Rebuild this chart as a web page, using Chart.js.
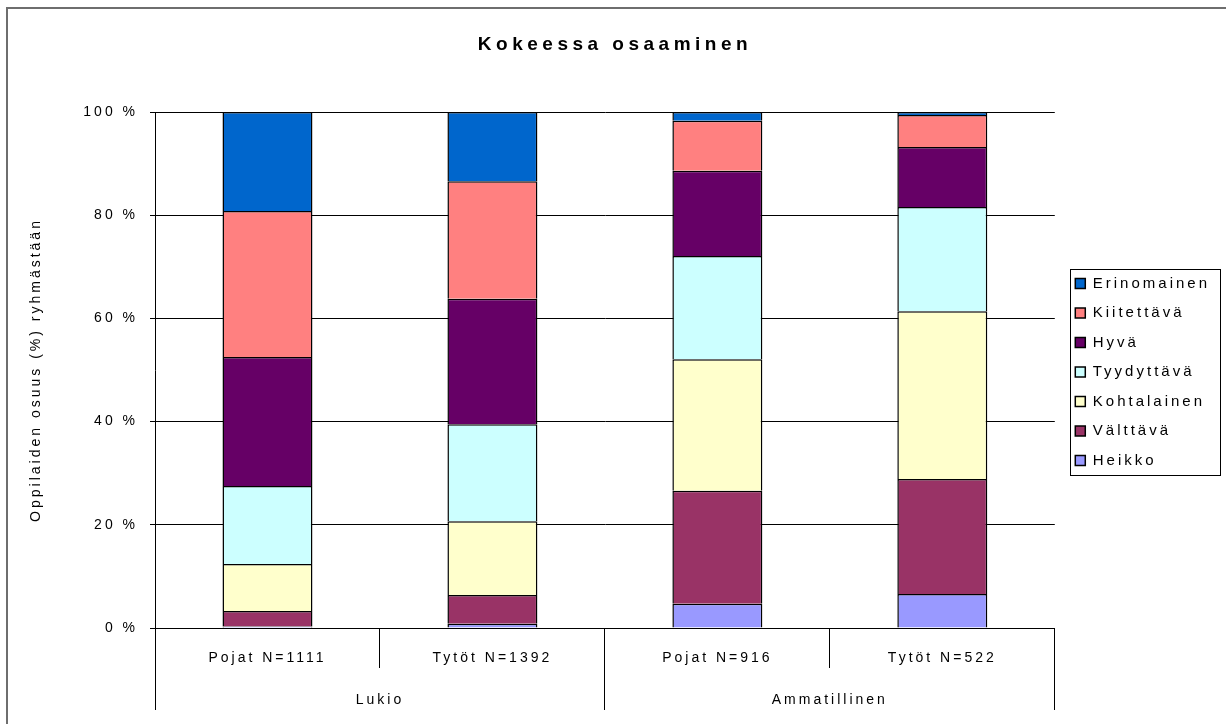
<!DOCTYPE html>
<html><head><meta charset="utf-8">
<script src="https://cdn.jsdelivr.net/npm/chart.js@4.4.1/dist/chart.umd.min.js"></script>
<style>html,body{margin:0;padding:0;background:#fff}canvas{display:block}</style>
</head><body>
<canvas id="c" width="1226" height="724"></canvas>
<script>
const chartTitle = 'Kokeessa osaaminen';
const yAxisTitle = 'Oppilaiden osuus (%) ryhmästään';
const categories = ['Pojat N=1111', 'Tytöt N=1392', 'Pojat N=916', 'Tytöt N=522'];
const groups = ['Lukio', 'Ammatillinen'];
const seriesNames = ['Heikko', 'Välttävä', 'Kohtalainen', 'Tyydyttävä', 'Hyvä', 'Kiitettävä', 'Erinomainen'];
const seriesColors = ['#9999FF', '#993366', '#FFFFCC', '#CCFFFF', '#660066', '#FF8080', '#0066CC'];
const heikko      = [0.3, 0.8, 4.7, 6.6];
const valttava    = [3.0, 5.6, 21.9, 22.3];
const kohtalainen = [9.1, 14.3, 25.5, 32.5];
const tyydyttava  = [15.1, 18.8, 20.0, 20.2];
const hyva        = [25.0, 24.3, 16.5, 11.6];
const kiitettava  = [28.3, 22.8, 9.7, 6.2];
const erinomainen = [19.2, 13.4, 1.7, 0.6];
const seriesValues = [heikko, valttava, kohtalainen, tyydyttava, hyva, kiitettava, erinomainen];

const FONT = "'Liberation Sans', Arial, sans-serif";
Chart.defaults.font.family = FONT;
Chart.defaults.font.size = 14;
Chart.defaults.color = '#000';

const SPACING = '3px';
const deco = {
  id: 'deco',
  beforeUpdate(chart) { chart.ctx.letterSpacing = SPACING; },
  beforeLayout(chart) { chart.ctx.letterSpacing = SPACING; },
  afterLayout(chart) {
    const lg = chart.legend;
    if (lg) {
      const shift = chart.chartArea.right + 6 - lg.left;
      lg.left += shift;
      lg.right += shift;
      lg.top += 2;
      lg.bottom += 2;
    }
  },
  beforeDraw(chart) {
    const ctx = chart.ctx;
    ctx.letterSpacing = SPACING;
    ctx.save();
    ctx.fillStyle = '#6e6e6e';
    ctx.fillRect(6, 7, 1220, 2);
    ctx.fillRect(6, 7, 2, 717);
    ctx.restore();
  },
  afterDraw(chart) {
    const ctx = chart.ctx;
    ctx.save();
    ctx.letterSpacing = '4.5px';
    ctx.font = "bold 19px " + FONT;
    ctx.fillStyle = '#000';
    ctx.textAlign = 'center';
    ctx.textBaseline = 'middle';
    ctx.fillText(chartTitle, chart.width / 2 + 2, 45);
    const lg = chart.legend;
    if (lg && lg.legendHitBoxes && lg.legendHitBoxes.length) {
      const hb = lg.legendHitBoxes;
      let l = Infinity, t = Infinity, r = -Infinity, b = -Infinity;
      hb.forEach(h => { l = Math.min(l, h.left); t = Math.min(t, h.top); r = Math.max(r, h.left + h.width); b = Math.max(b, h.top + h.height); });
      ctx.strokeStyle = '#000';
      ctx.lineWidth = 1;
      ctx.strokeRect(Math.round(l - 5) + 0.5, Math.round(t - 7) + 0.5, Math.round(r - l + 15), Math.round(b - t + 14));
    }
    ctx.restore();
  }
};

new Chart(document.getElementById('c'), {
  type: 'bar',
  data: {
    labels: categories,
    datasets: seriesNames.map((n, i) => ({
      label: n,
      data: seriesValues[i],
      backgroundColor: seriesColors[i],
      borderColor: '#000',
      borderWidth: 1.5,
      barPercentage: 0.4,
      categoryPercentage: 1.0
    }))
  },
  options: {
    responsive: false,
    animation: false,
    layout: { padding: { top: 112, left: 20, right: 12, bottom: 0 } },
    plugins: {
      title: { display: false },
      tooltip: { enabled: false },
      legend: {
        position: 'right',
        fullSize: false,
        reverse: true,
        labels: { boxWidth: 10, boxHeight: 10, padding: 14.5, font: { size: 15 }, color: '#000' }
      }
    },
    scales: {
      x: {
        stacked: true,
        offset: true,
        grid: { offset: true, drawOnChartArea: false, drawTicks: true, tickLength: 40, tickColor: '#000', color: '#000' },
        border: { display: true, color: '#000' },
        ticks: { padding: -18, font: { size: 14 }, color: '#000', maxRotation: 0 },
        afterFit(s) { s.height = 40; }
      },
      x2: {
        type: 'category',
        position: 'bottom',
        labels: groups,
        offset: true,
        grid: { offset: true, drawOnChartArea: false, drawTicks: true, tickLength: 42, tickColor: '#000', color: '#000' },
        border: { display: false },
        ticks: { padding: -18, font: { size: 14 }, color: '#000', maxRotation: 0 },
        afterFit(s) { s.height = 56; }
      },
      y: {
        stacked: true,
        min: 0,
        max: 100,
        ticks: { stepSize: 20, padding: 12, font: { size: 14 }, color: '#000', callback: v => v + ' %' },
        grid: { color: '#000', lineWidth: 1, tickLength: 5, tickColor: '#000' },
        border: { display: true, color: '#000' },
        title: { display: true, text: yAxisTitle, font: { size: 14 }, color: '#000', padding: { top: 8, bottom: 0 } },
        afterFit(s) { s.width = 135; }
      }
    }
  },
  plugins: [deco]
});
</script>
</body></html>
